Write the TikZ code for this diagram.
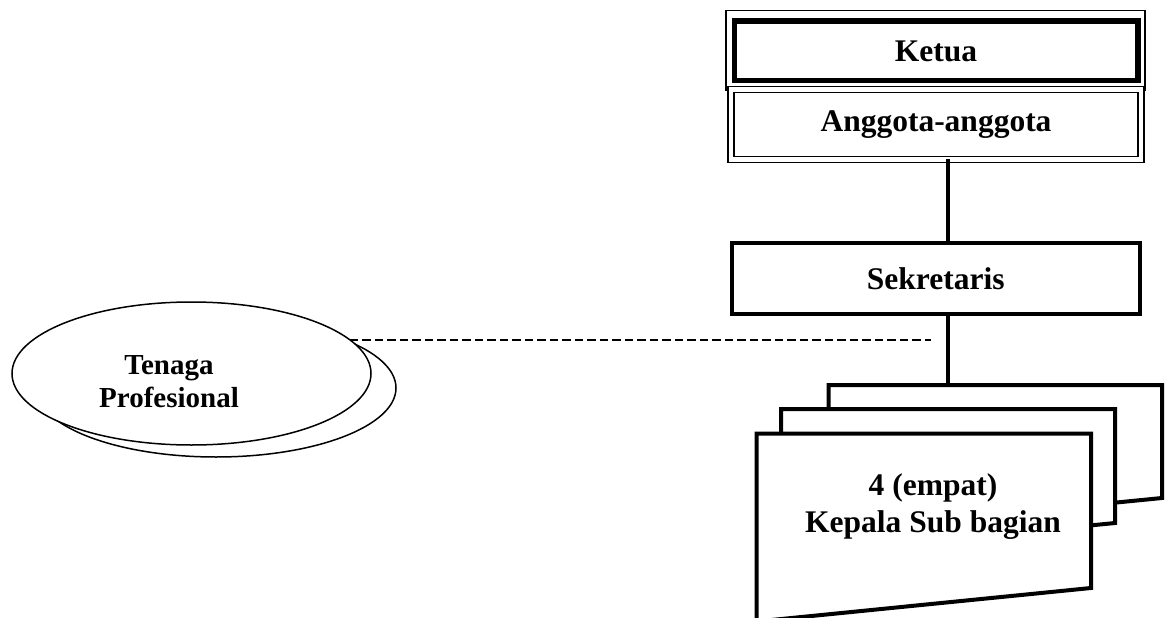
\documentclass[tikz,border=0pt]{standalone}
\usepackage{fontspec}
\setmainfont{Liberation Serif}
\usetikzlibrary{shapes.geometric}
\begin{document}
\begin{tikzpicture}[x=1pt,y=-1pt,
  lbl/.style={font=\bfseries\fontsize{31.5}{37}\selectfont, align=center},
  boxbase/.style={rectangle, inner sep=0pt, outer sep=0pt, fill=white, lbl},
  ketuabox/.style={boxbase, draw, line width=5.5pt, minimum width=403.5pt, minimum height=59.5pt},
  thinframe/.style={draw, line width=1.5pt},
  anggotabox/.style={boxbase, draw, double, line width=1.5pt, double distance=4.5pt, minimum width=410pt, minimum height=69.75pt},
  sekbox/.style={boxbase, draw, line width=4pt, minimum width=407.5pt, minimum height=71pt},
  conn/.style={draw, line width=3.5pt},
  dashconn/.style={draw, line width=2.5pt, dash pattern=on 8.5pt off 4pt},
  cardshape/.style={draw, fill=white, line width=4pt, line join=miter},
  ell/.style={ellipse, draw, fill=white, line width=1.5pt, inner sep=0pt, outer sep=0pt},
  proflbl/.style={font=\bfseries\fontsize{29}{33}\selectfont, align=center}
]
\clip (0,0) rectangle (1170,618);
\fill[white] (0,0) rectangle (1170,618);

% free end coordinates
\coordinate (sub3top) at (948,385);
\coordinate (dashend) at (931,339);

% professional staff (ellipses)
\node[ell, minimum width=360pt, minimum height=138pt] (profback) at (216,388) {};
\node[ell, minimum width=359pt, minimum height=143pt] (prof) at (191.5,373.5) {};
\node[proflbl] (proftxt) at (169,381.5) {Tenaga\\Profesional};

% dashed link
\draw[dashconn] (prof.12.4) -- (prof.12.4 -| dashend);

% Ketua
\node[ketuabox] (ketua) at (936,51) {Ketua};
\draw[thinframe] ([shift={(-8.25,-10.75)}]ketua.north west) rectangle ([shift={(7.25,9.25)}]ketua.south east);
\node[ketuabox, fill=none] at (ketua) {};

% Anggota
\node[anggotabox] (ang) at (936,124.4) {Anggota-anggota};

% Sekretaris
\node[sekbox] (sek) at (935.75,278.5) {Sekretaris};

% connectors (drawn, then boxes repainted over their ends)
\draw[conn] (ang.south -| sub3top) -- (sek.north -| sub3top);
\draw[conn] (sek.south -| sub3top) -- (sub3top);

% Kepala Sub bagian cards
\draw[cardshape] (828.5,385) -- (1162,385) -- (1162,498) -- (828.5,531) -- cycle;
\draw[cardshape] (781,409) -- (1115,409) -- (1115,523) -- (781,556) -- cycle;
\draw[cardshape] (756.5,433.5) -- (1091,433.5) -- (1091,588) -- (756.5,621.5) -- cycle;
\node[lbl] (sub) at (933,506.5) {4 (empat)\\Kepala Sub bagian};
\end{tikzpicture}
\end{document}
